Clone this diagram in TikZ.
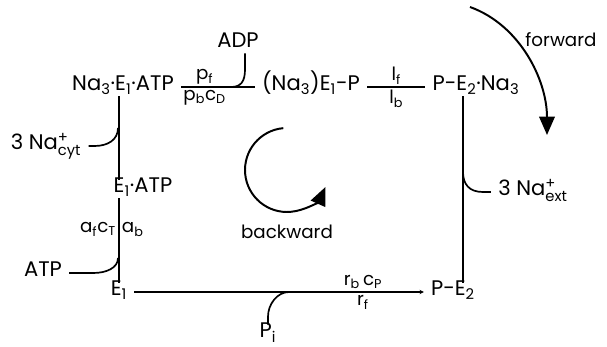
\documentclass[tikz,border=0pt]{standalone}
\usepackage{amsmath}
\usepackage{fontspec}
\setmainfont{Poppins}
\usetikzlibrary{arrows.meta, positioning, calc}
\newcommand{\ind}[1]{\textsubscript{#1}}
\newcommand{\naion}[1]{Na\(^{\text{+}}_{\text{#1}}\)}
\tikzset{
    species/.style={
        inner xsep=5pt,
        inner ysep=2pt,
        text height=0.72em,
        text depth=0.18em,
        font=\fontsize{15}{17}\selectfont
    },
    rate/.style={
        inner sep=1.5pt,
        font=\fontsize{13}{15}\selectfont
    },
    react/.style={
        line width=1.2pt
    },
    feed/.style={
        line width=1.2pt
    },
    turnarrow/.style={
        -{Triangle[length=13pt,width=11pt]},
        line width=1.4pt
    }
}
\begin{document}
\begin{tikzpicture}[x=0.025cm, y=-0.025cm]
    \useasboundingbox (0,0) rectangle (607,347);
    % states of the pump
    \node[species] (naeatp) at (123,87) {Na\ind{3}·E\ind{1}·ATP};
    \node[species] (nae1p) at (311,87) {(Na\ind{3})E\ind{1}-P};
    \node[species] (pe2na) at (476,87) {P-E\ind{2}·Na\ind{3}};
    \node[species] (e1atp) at (143,189) {E\ind{1}·ATP};
    \node[species] (e1) at (119,292) {E\ind{1}};
    \node[species] (pe2) at (453,292) {P-E\ind{2}};

    % ligands
    \node[species] (adp) at (238,44) {ADP};
    \node[species] (nacyt) at (46,146) {3 \naion{cyt}};
    \node[species] (naext) at (533,192) {3 \naion{ext}};
    \node[species] (atp) at (43,273) {ATP};
    \node[species] (pi) at (268,334) {P\ind{i}};

    \coordinate (adpj) at (231,87);
    \coordinate (cytj) at (118,128);
    \coordinate (atpj) at (118,258);
    \coordinate (pij) at (289,292);
    \coordinate (extj) at (463,172);

    % reaction steps
    \draw[react] (naeatp) -- node[rate, above, pos=0.32]{p\ind{f}} node[rate, below, pos=0.32]{p\ind{b}c\ind{D}} (nae1p);
    \draw[react] (nae1p) -- node[rate, above]{l\ind{f}} node[rate, below]{l\ind{b}} (pe2na);
    \draw[react] (naeatp.south -| e1) -- (e1atp.north -| e1);
    \draw[react] (e1atp.south -| e1) -- node[rate, left, pos=0.37]{a\ind{f}c\ind{T}} node[rate, right, pos=0.37]{a\ind{b}} (e1.north);
    \draw[react, -{Stealth[length=3pt,width=3pt]}] (e1) -- node[rate, above, pos=0.79]{r\ind{b}\,c\ind{P}} node[rate, below, pos=0.79]{r\ind{f}} (pe2);
    \draw[react] ($(pe2na.south)+(-13,0)$) -- ($(pe2.north)+(10,0)$);

    % binding and release
    \draw[feed] ($(adp.south)+(7,0)$) -- ++(0,16) .. controls +(0,12) and +(10,0) .. (adpj);
    \draw[feed] (nacyt.east) -- ++(6,0) .. controls +(13,0) and +(0,12) .. (cytj);
    \draw[feed] (atp.east) -- ++(24,0) .. controls +(13,0) and +(0,10) .. (atpj);
    \draw[feed] (pi.north) -- ++(0,-8) .. controls +(0,-12) and +(-12,0) .. (pij);
    \draw[feed] (naext.west) -- ++(-8,0) .. controls +(-14,0) and +(0,12) .. (extj);

    % direction of the cycle
    \draw[turnarrow] (470,7) .. controls (520,25) and (547,80) .. (547,135);
    \node[rate] (fwd) at (561,40) {forward};
    \begin{scope}[shift={(287,170)}, y=0.025cm]
        \draw[turnarrow] (95:42) arc[start angle=95, end angle=336, radius=42];
    \end{scope}
    \node[rate] (bwd) at (287,232) {backward};
\end{tikzpicture}
\end{document}
